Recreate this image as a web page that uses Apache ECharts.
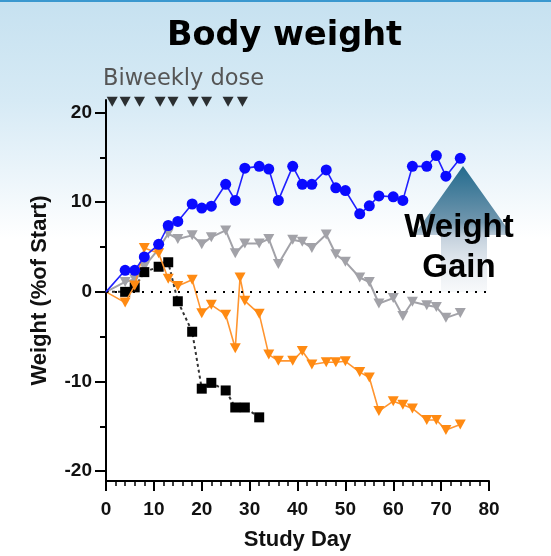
<!DOCTYPE html>
<html>
<head>
<meta charset="utf-8">
<script src="https://cdn.jsdelivr.net/npm/echarts@6/dist/echarts.min.js"></script>
<style>
html,body{margin:0;padding:0;background:#fff;}
#chart{width:551px;height:556px;}
</style>
</head>
<body>
<div id="chart"></div>
<script>
// ---- data ----
const days = [0,4,6,8,11,13,15,18,20,22,25,27,29,32,34,36,39,41,43,46,48,50,53,55,57,60,62,64,67,69,71,74];
const blueValues = [0,2.4,2.4,3.9,5.3,7.4,7.85,9.8,9.35,9.55,12.0,10.2,13.8,14.0,13.7,10.2,14.0,12.0,12.0,13.6,11.6,11.3,8.7,9.6,10.7,10.6,10.2,14.0,14.0,15.2,12.9,14.9];
const grayValues = [0,1.1,1.4,2.8,4.8,6.5,5.9,6.3,5.3,6.1,6.85,4.3,5.4,5.4,5.9,3.1,5.8,5.6,4.9,6.4,4.2,3.35,1.6,1.1,-1.3,-0.7,-2.7,-1.1,-1.5,-1.7,-2.9,-2.35];
const orangeDays = [0,4,6,8,11,13,15,18,20,22,25,27,28,29,32,34,36,39,41,43,46,48,50,53,55,57,60,62,64,67,69,71,74];
const orangeValues = [0,-1.2,0.7,4.9,4.3,1.45,0.65,1.35,-2.4,-1.45,-2.55,-6.3,1.6,-1.0,-2.45,-7.0,-7.7,-7.7,-6.6,-8.1,-7.85,-7.85,-7.75,-8.95,-9.55,-13.3,-12.2,-12.6,-13.0,-14.3,-14.3,-15.4,-14.8];
const blackDays = [0,4,6,8,11,13,15,18,20,22,25,27,29,32];
const blackValues = [0,0,0.5,2.2,2.8,3.3,-1.05,-4.45,-10.8,-10.15,-11.0,-12.9,-12.9,-14.0];
const doseDays = [1.3,4,7,11.3,14,18.2,21,25.5,28.5];
const doseLevel = 21.2;
const yMajorTicks = [-20,-10,0,10,20];
const yMinorTicks = [-15,-5,5,15];
const titleText = 'Body weight';
const doseText = 'Biweekly dose';
const xName = 'Study Day';
const yName = 'Weight (%of Start)';
const gainText = 'Weight\nGain';

function pts(xs, ys) {
  return xs.map((d, i) => i === 0 ? { value: [d, ys[i]], symbolSize: 0 } : [d, ys[i]]);
}

const AX = "'Liberation Sans', Arial, Helvetica, sans-serif";
const VD = "'DejaVu Sans', Verdana, sans-serif";

const chart = echarts.init(document.getElementById('chart'), null, { renderer: 'canvas' });
chart.setOption({
  animation: false,
  backgroundColor: {
    type: 'linear', x: 0, y: 0, x2: 0, y2: 1,
    colorStops: [
      { offset: 0, color: '#c6e1f0' },
      { offset: 0.18, color: '#d6eaf5' },
      { offset: 0.33, color: '#eef6fb' },
      { offset: 0.43, color: '#ffffff' },
      { offset: 1, color: '#ffffff' }
    ]
  },
  title: {
    text: titleText,
    left: 162, top: 14,
    textStyle: { fontFamily: VD, fontWeight: 'bold', fontSize: 33.5, color: '#000' }
  },
  grid: { left: 106, right: 62, top: 100, bottom: 72, containLabel: false },
  xAxis: {
    type: 'value', min: 0, max: 80, interval: 10,
    name: xName, nameLocation: 'middle', nameGap: 48,
    nameTextStyle: { fontFamily: AX, fontWeight: 'bold', fontSize: 22, color: '#111' },
    axisLine: { show: true, onZero: false, lineStyle: { color: '#000', width: 2 } },
    axisTick: { show: true, length: 10, lineStyle: { color: '#000', width: 2 } },
    minorTick: { show: true, splitNumber: 5, length: 5, lineStyle: { color: '#000', width: 1.5 } },
    axisLabel: { fontFamily: AX, fontWeight: 'bold', fontSize: 19, color: '#111', margin: 19 },
    splitLine: { show: false }, minorSplitLine: { show: false }
  },
  yAxis: [{
    type: 'value', min: -21.1, max: 21.4, position: 'left',
    name: yName, nameLocation: 'middle', nameGap: 55, nameRotate: 90,
    nameTextStyle: { fontFamily: AX, fontWeight: 'bold', fontSize: 22, color: '#111' },
    axisLine: { show: true, onZero: false, lineStyle: { color: '#000', width: 2 } },
    axisTick: { show: true, customValues: yMajorTicks, length: 11, lineStyle: { color: '#000', width: 2 } },
    axisLabel: { customValues: yMajorTicks, fontFamily: AX, fontWeight: 'bold', fontSize: 19, color: '#111', margin: 14 },
    splitLine: { show: false }
  }, {
    type: 'value', min: -21.1, max: 21.4, position: 'left', offset: 0,
    axisLine: { show: false },
    axisTick: { show: true, customValues: yMinorTicks, length: 6, lineStyle: { color: '#000', width: 2 } },
    axisLabel: { show: false },
    splitLine: { show: false }
  }],
  series: [
    {
      type: 'line', name: 'gray', data: pts(days, grayValues),
      symbol: 'triangle', symbolRotate: 180, symbolSize: [11, 10],
      itemStyle: { color: '#a2a2a8' }, lineStyle: { color: '#a2a2a8', width: 2 },
      z: 2,
      markLine: {
        silent: true, symbol: 'none', label: { show: false },
        lineStyle: { color: '#000', type: [2, 7], width: 2 },
        data: [{ yAxis: 0 }]
      }
    },
    {
      type: 'line', name: 'black', data: pts(blackDays, blackValues),
      symbol: 'rect', symbolSize: 10,
      itemStyle: { color: '#000' }, lineStyle: { color: '#333', width: 2, type: [3, 3] },
      z: 3
    },
    {
      type: 'line', name: 'orange', data: pts(orangeDays, orangeValues),
      symbol: 'triangle', symbolRotate: 180, symbolSize: [11, 10],
      itemStyle: { color: '#ff8a12' }, lineStyle: { color: '#ff9530', width: 1.6 },
      z: 4
    },
    {
      type: 'line', name: 'blue', data: pts(days, blueValues),
      symbol: 'circle', symbolSize: 11,
      itemStyle: { color: '#0a0aff' }, lineStyle: { color: '#2020ff', width: 1.6 },
      z: 5
    },
    {
      type: 'scatter', name: 'dose', data: doseDays.map(d => [d, doseLevel]),
      symbol: 'triangle', symbolRotate: 180, symbolSize: [11, 10],
      itemStyle: { color: '#000' }, clip: false, z: 6
    }
  ],
  graphic: [
    { type: 'rect', left: 0, top: 0, shape: { width: 551, height: 2 }, style: { fill: '#3b98cf' }, z: 0 },
    {
      type: 'polygon', z: 1,
      shape: { points: [[463,166],[512,235],[487,235],[487,292],[441,292],[441,235],[414,235]] },
      style: {
        fill: {
          type: 'linear', x: 0, y: 0, x2: 0, y2: 1,
          colorStops: [
            { offset: 0, color: '#236b8e' },
            { offset: 0.45, color: '#7297ae' },
            { offset: 0.56, color: '#c3d0dc' },
            { offset: 1, color: 'rgba(236,240,244,0.4)' }
          ]
        }
      }
    },
    {
      type: 'text', z: 100, left: 103, top: 68,
      style: { text: doseText, fontFamily: VD, fontSize: 22.5, fill: '#555' }
    },
    {
      type: 'text', z: 100, x: 459, y: 248,
      style: { text: gainText, fontFamily: AX, fontWeight: 'bold', fontSize: 33, lineHeight: 40, fill: '#000', align: 'center', verticalAlign: 'middle' }
    }
  ]
});
</script>
</body>
</html>
